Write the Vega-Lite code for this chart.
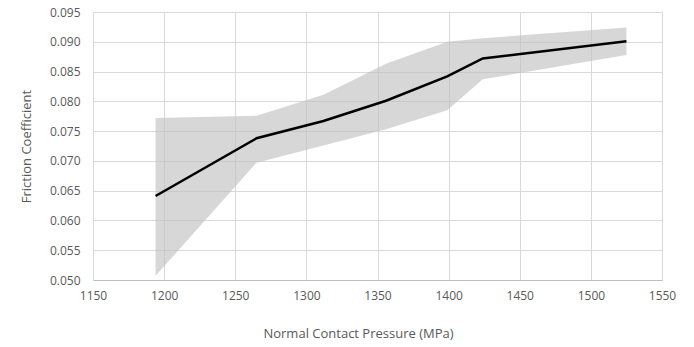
{
  "$schema": "https://vega.github.io/schema/vega-lite/v6.json",
  "autosize": "none",
  "padding": {"left": 93, "top": 12, "right": 32, "bottom": 67},
  "width": 569,
  "height": 268,
  "background": "white",
  "config": {
    "view": {"stroke": null},
    "font": "Open Sans",
    "axis": {
      "labelFont": "Open Sans",
      "titleFont": "Open Sans",
      "labelFontSize": 12,
      "titleFontSize": 13,
      "labelColor": "#595959",
      "titleColor": "#595959",
      "titleFontWeight": "normal",
      "gridColor": "#d9d9d9",
      "gridWidth": 1,
      "ticks": false,
      "labelOverlap": false
    }
  },
  "data": {
    "values": [
      {"p": 1194, "f": 0.0641, "lo": 0.0507, "hi": 0.0772},
      {"p": 1265, "f": 0.0738, "lo": 0.0697, "hi": 0.0776},
      {"p": 1312, "f": 0.0767, "lo": 0.0726, "hi": 0.0811},
      {"p": 1356, "f": 0.0801, "lo": 0.0753, "hi": 0.0863},
      {"p": 1399, "f": 0.0842, "lo": 0.0785, "hi": 0.0900},
      {"p": 1424, "f": 0.0872, "lo": 0.0837, "hi": 0.0906},
      {"p": 1525, "f": 0.0901, "lo": 0.0878, "hi": 0.0924}
    ]
  },
  "encoding": {
    "x": {
      "field": "p",
      "type": "quantitative",
      "scale": {"domain": [1150, 1550], "nice": false, "zero": false},
      "axis": {
        "title": "Normal Contact Pressure (MPa)",
        "values": [1150, 1200, 1250, 1300, 1350, 1400, 1450, 1500, 1550],
        "format": "d",
        "labelPadding": 10,
        "titlePadding": 26,
        "titleX": 265,
        "titleAlign": "center",
        "domainColor": "#bfbfbf",
        "labelFlush": false
      }
    }
  },
  "layer": [
    {
      "mark": {"type": "area", "color": "#bfbfbf", "opacity": 0.62},
      "encoding": {
        "y": {
          "field": "lo",
          "type": "quantitative",
          "scale": {"domain": [0.05, 0.095], "nice": false, "zero": false},
          "axis": {
            "title": "Friction Coefficient",
            "values": [0.05, 0.055, 0.06, 0.065, 0.07, 0.075, 0.08, 0.085, 0.09, 0.095],
            "format": ".3f",
            "domain": false,
            "labelPadding": 13,
            "titlePadding": 16,
            "labelFlush": false
          }
        },
        "y2": {"field": "hi"}
      }
    },
    {
      "mark": {"type": "line", "color": "#000000", "strokeWidth": 2.5},
      "encoding": {
        "y": {
          "field": "f",
          "type": "quantitative",
          "scale": {"domain": [0.05, 0.095], "nice": false, "zero": false},
          "axis": {
            "title": "Friction Coefficient",
            "values": [0.05, 0.055, 0.06, 0.065, 0.07, 0.075, 0.08, 0.085, 0.09, 0.095],
            "format": ".3f",
            "domain": false,
            "labelPadding": 13,
            "titlePadding": 16,
            "labelFlush": false
          }
        }
      }
    }
  ]
}
